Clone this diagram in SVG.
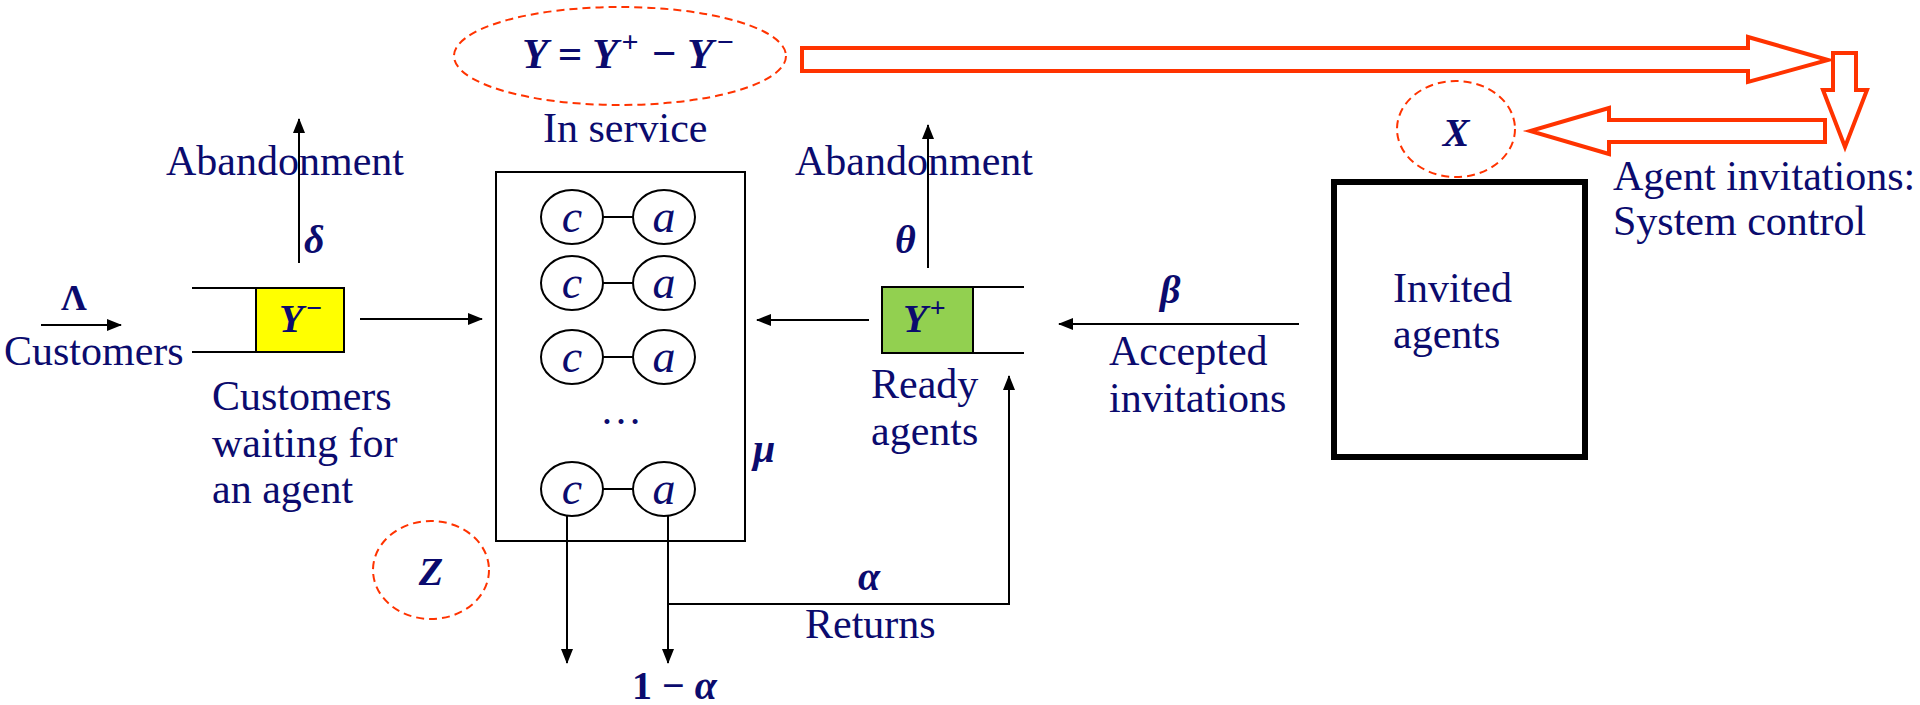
<svg xmlns="http://www.w3.org/2000/svg" width="1920" height="705" viewBox="0 0 1920 705">
  <style>
    text { font-family: 'Liberation Serif', serif; }
    .lbl { font-size: 42px; fill: #0b0b6e; }
    .math { font-weight: bold; font-style: italic; fill: #0b0b6e; }
    .up { font-weight: bold; font-style: normal; fill: #0b0b6e; }
    .var { font-style: italic; font-size: 46px; fill: #0b0b6e; }
    .ln { stroke: #000; stroke-width: 2; fill: none; }
    .arr { stroke: #000; stroke-width: 2; fill: none; marker-end: url(#head); }
    .dash { stroke: #ff3300; stroke-width: 2; fill: none; stroke-dasharray: 8 5; }
    .big { stroke: #ff3300; stroke-width: 4; fill: #fff; stroke-linejoin: miter; }
    .pair { stroke: #000; stroke-width: 2; fill: #fff; }
  </style>
  <defs>
    <marker id="head" markerUnits="userSpaceOnUse" markerWidth="16" markerHeight="14" refX="14" refY="6" orient="auto">
      <path d="M0,0 L15,6 L0,12 Z" fill="#000"/>
    </marker>
  </defs>
  <rect width="1920" height="705" fill="#fff"/>

  <!-- control quantities -->
  <g id="formula">
    <ellipse class="dash" cx="620" cy="56" rx="166" ry="49"/>
    <text class="math" x="522" y="68" font-size="43">Y = Y<tspan font-size="30" dx="3" dy="-16">+</tspan><tspan dx="2" dy="16"> − Y</tspan><tspan font-size="30" dx="3" dy="-16">−</tspan></text>
  </g>
  <g id="x-control">
    <ellipse class="dash" cx="1456" cy="129" rx="59" ry="48"/>
    <text class="math" x="1456" y="146" font-size="40" text-anchor="middle">X</text>
  </g>
  <g id="z-control">
    <ellipse class="dash" cx="431" cy="570" rx="58" ry="49"/>
    <text class="math" x="431" y="585" font-size="40" text-anchor="middle">Z</text>
  </g>

  <!-- system control arrows -->
  <g id="control-arrows">
    <polygon class="big" points="802,48 1748,48 1748,37 1828,60 1748,82 1748,71 802,71"/>
    <polygon class="big" points="1833,53 1856,53 1856,90 1867,90 1845,147 1823,90 1833,90"/>
    <polygon class="big" points="1825,120 1609,120 1609,108 1530,131 1609,154 1609,142 1825,142"/>
  </g>

  <!-- customer arrivals -->
  <g id="arrivals">
    <text class="up" x="74" y="310" font-size="36" text-anchor="middle">Λ</text>
    <text class="lbl" x="4" y="365">Customers</text>
  </g>

  <!-- customer queue -->
  <g id="customer-queue">
    <line class="ln" x1="192" y1="288" x2="256" y2="288"/>
    <line class="ln" x1="192" y1="352" x2="256" y2="352"/>
    <rect x="256" y="288" width="88" height="64" fill="#ffff00" stroke="#000" stroke-width="2"/>
    <text class="math" x="279" y="332" font-size="40">Y<tspan font-size="28" dx="2" dy="-15">−</tspan></text>
    <text class="lbl" x="212" y="410">Customers</text>
    <text class="lbl" x="212" y="457">waiting for</text>
    <text class="lbl" x="212" y="503">an agent</text>
  </g>
  <g id="customer-abandonment">
    <text class="lbl" x="166" y="175">Abandonment</text>
    <text class="math" x="304" y="253" font-size="40">δ</text>
  </g>

  <!-- service -->
  <g id="in-service">
    <text class="lbl" x="543" y="142">In service</text>
    <rect x="496" y="172" width="249" height="369" fill="none" stroke="#000" stroke-width="2"/>
    <g id="pair1">
      <line class="ln" x1="603" y1="217" x2="633" y2="217"/>
      <ellipse class="pair" cx="572" cy="217" rx="31" ry="27"/>
      <ellipse class="pair" cx="664" cy="217" rx="31" ry="27"/>
      <text class="var" x="572" y="232" text-anchor="middle">c</text>
      <text class="var" x="664" y="232" text-anchor="middle">a</text>
    </g>
    <g id="pair2">
      <line class="ln" x1="603" y1="283" x2="633" y2="283"/>
      <ellipse class="pair" cx="572" cy="283" rx="31" ry="27"/>
      <ellipse class="pair" cx="664" cy="283" rx="31" ry="27"/>
      <text class="var" x="572" y="298" text-anchor="middle">c</text>
      <text class="var" x="664" y="298" text-anchor="middle">a</text>
    </g>
    <g id="pair3">
      <line class="ln" x1="603" y1="357" x2="633" y2="357"/>
      <ellipse class="pair" cx="572" cy="357" rx="31" ry="27"/>
      <ellipse class="pair" cx="664" cy="357" rx="31" ry="27"/>
      <text class="var" x="572" y="372" text-anchor="middle">c</text>
      <text class="var" x="664" y="372" text-anchor="middle">a</text>
    </g>
    <text class="lbl" x="621" y="424" text-anchor="middle" font-size="30">…</text>
    <g id="pair4">
      <line class="ln" x1="603" y1="489" x2="633" y2="489"/>
      <ellipse class="pair" cx="572" cy="489" rx="31" ry="27"/>
      <ellipse class="pair" cx="664" cy="489" rx="31" ry="27"/>
      <text class="var" x="572" y="504" text-anchor="middle">c</text>
      <text class="var" x="664" y="504" text-anchor="middle">a</text>
    </g>
    <text class="math" x="753" y="462" font-size="40">μ</text>
  </g>

  <!-- agent queue -->
  <g id="agent-queue">
    <line class="ln" x1="973" y1="287" x2="1024" y2="287"/>
    <line class="ln" x1="973" y1="353" x2="1024" y2="353"/>
    <rect x="882" y="287" width="91" height="66" fill="#92d050" stroke="#000" stroke-width="2"/>
    <text class="math" x="903" y="332" font-size="40">Y<tspan font-size="28" dx="2" dy="-15">+</tspan></text>
    <text class="lbl" x="871" y="398">Ready</text>
    <text class="lbl" x="871" y="445">agents</text>
  </g>
  <g id="agent-abandonment">
    <text class="lbl" x="795" y="175">Abandonment</text>
    <text class="math" x="895" y="253" font-size="40">θ</text>
  </g>

  <!-- invited agents -->
  <g id="invited-agents">
    <rect x="1334" y="182" width="251" height="275" fill="none" stroke="#000" stroke-width="6"/>
    <text class="lbl" x="1393" y="302">Invited</text>
    <text class="lbl" x="1393" y="348">agents</text>
  </g>
  <g id="invitation-labels">
    <text class="lbl" x="1613" y="190">Agent invitations:</text>
    <text class="lbl" x="1613" y="235">System control</text>
    <text class="math" x="1160" y="303" font-size="40">β</text>
    <text class="lbl" x="1109" y="365">Accepted</text>
    <text class="lbl" x="1109" y="412">invitations</text>
  </g>
  <g id="return-labels">
    <text class="math" x="858" y="590" font-size="40">α</text>
    <text class="lbl" x="805" y="638">Returns</text>
    <text class="up" x="632" y="699" font-size="40">1 − <tspan class="math">α</tspan></text>
  </g>

  <!-- connectors -->
  <g id="connectors">
    <line class="arr" x1="41" y1="325" x2="121" y2="325"/>
    <line class="arr" x1="299" y1="263" x2="299" y2="119"/>
    <line class="arr" x1="360" y1="319" x2="482" y2="319"/>
    <line class="arr" x1="869" y1="320" x2="757" y2="320"/>
    <line class="arr" x1="928" y1="268" x2="928" y2="125"/>
    <line class="arr" x1="1299" y1="324" x2="1059" y2="324"/>
    <line class="arr" x1="567" y1="516" x2="567" y2="663"/>
    <line class="arr" x1="668" y1="516" x2="668" y2="663"/>
    <polyline class="arr" points="668,604 1009,604 1009,376"/>
  </g>
</svg>
